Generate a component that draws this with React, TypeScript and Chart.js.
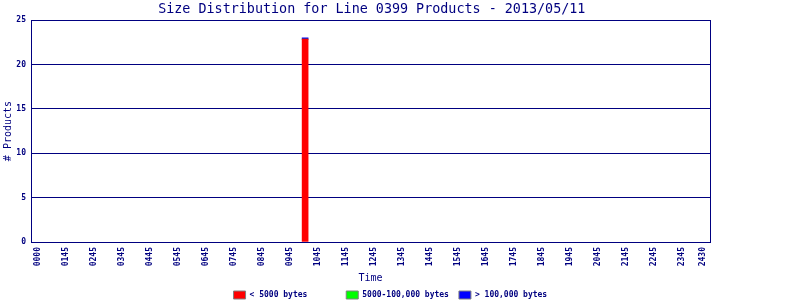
import React, { useEffect, useRef } from 'react';
import { Chart, registerables } from 'chart.js';

Chart.register(...registerables);

const NAVY = '#000080';
const MONO = "'DejaVu Sans Mono', 'Liberation Mono', monospace";

const titleText = 'Size Distribution for Line 0399 Products - 2013/05/11';
const xAxisTitle = 'Time';
const yAxisTitle = '# Products';

// tick positions on the slot axis and their labels
const xTickValues = [0, 1, 2, 3, 4, 5, 6, 7, 8, 9, 10, 11, 12, 13, 14, 15, 16, 17, 18, 19, 20, 21, 22, 23, 23.75];
const xTickLabels = [
  '0000', '0145', '0245', '0345', '0445', '0545', '0645', '0745', '0845', '0945',
  '1045', '1145', '1245', '1345', '1445', '1545', '1645', '1745', '1845', '1945',
  '2045', '2145', '2245', '2345', '2430',
];

// bar positions (slot axis) and stacked series values
const barSlots = [9.54];
const smallValues = [22.85];
const mediumValues = [0];
const largeValues = [0.15];

const seriesLabels = ['< 5000 bytes', '5000-100,000 bytes', '> 100,000 bytes'];
const seriesColors = ['#ff0000', '#00ff00', '#0000ff'];
const legendPad = [18, 18, 19];

export default function App() {
  const canvasRef = useRef<HTMLCanvasElement | null>(null);

  useEffect(() => {
    document.body.style.margin = '0';
    const canvas = canvasRef.current;
    if (!canvas) return;

    const seriesValues = [smallValues, mediumValues, largeValues];
    const datasets = seriesValues.map((vals, i) => ({
      type: 'bar' as const,
      label: seriesLabels[i],
      data: barSlots.map((x, j) => ({ x, y: vals[j] })),
      backgroundColor: seriesColors[i],
      borderWidth: 0,
      barThickness: 6,
      xAxisID: 'x',
      yAxisID: 'y',
    }));

    const chart = new Chart(canvas, {
      type: 'bar',
      data: { datasets },
      options: {
        responsive: false,
        animation: false,
        events: [],
        layout: { padding: 0 },
        scales: {
          x: {
            type: 'linear',
            min: -0.25,
            max: 24,
            offset: false,
            stacked: true,
            afterBuildTicks: (s: any) => {
              s.ticks = xTickValues.map((v) => ({ value: v }));
            },
            afterFit: (s: any) => {
              s.height = 39;
            },
            ticks: {
              autoSkip: false,
              minRotation: 90,
              maxRotation: 90,
              padding: 5,
              color: NAVY,
              font: { family: MONO, size: 8, weight: 'bold' },
              callback: (_v: any, i: number) => xTickLabels[i],
            },
            grid: { display: false, drawTicks: false, offset: false },
            border: { display: true, color: NAVY, width: 1 },
            title: {
              display: true,
              text: xAxisTitle,
              color: NAVY,
              font: { family: MONO, size: 10 },
              padding: { top: 0, bottom: -3 },
            },
          },
          y: {
            type: 'linear',
            position: 'left',
            min: 0,
            max: 25,
            stacked: true,
            afterFit: (s: any) => {
              s.width = 31;
            },
            ticks: {
              stepSize: 5,
              padding: 5,
              color: NAVY,
              font: { family: MONO, size: 8, weight: 'bold' },
            },
            grid: { color: NAVY, lineWidth: 1, drawTicks: false },
            border: { display: true, color: NAVY, width: 1 },
            title: {
              display: true,
              text: yAxisTitle,
              color: NAVY,
              font: { family: MONO, size: 10 },
              padding: { top: 2, bottom: 0 },
            },
          },
          y2: {
            type: 'linear',
            position: 'right',
            display: true,
            afterFit: (s: any) => {
              s.width = 90;
            },
            ticks: { display: false },
            grid: { display: false, drawTicks: false },
            border: { display: true, color: NAVY, width: 1 },
          },
        },
        plugins: {
          title: {
            display: true,
            text: titleText + ' '.repeat(7),
            color: NAVY,
            font: { family: MONO, size: 13.4, weight: 'normal' },
            padding: { top: 1, bottom: 3 },
          },
          legend: {
            display: true,
            position: 'bottom',
            maxHeight: 19,
            labels: {
              boxWidth: 12,
              boxHeight: 8,
              padding: 10,
              color: NAVY,
              font: { family: MONO, size: 8, weight: 'bold' },
              generateLabels: (c: any) => {
                const items = (Chart as any).defaults.plugins.legend.labels.generateLabels(c);
                return items.map((it: any, i: number) => ({
                  ...it,
                  text: seriesLabels[i].padEnd(legendPad[i], ' '),
                  fillStyle: seriesColors[i],
                  strokeStyle: '#808080',
                  lineWidth: 1,
                  fontColor: NAVY,
                }));
              },
            },
          },
          tooltip: { enabled: false },
        },
      },
    } as any);

    return () => {
      chart.destroy();
    };
  }, []);

  return (
    <div style={{ width: 800, height: 300 }}>
      <canvas ref={canvasRef} width={800} height={300} style={{ display: 'block' }} />
    </div>
  );
}
